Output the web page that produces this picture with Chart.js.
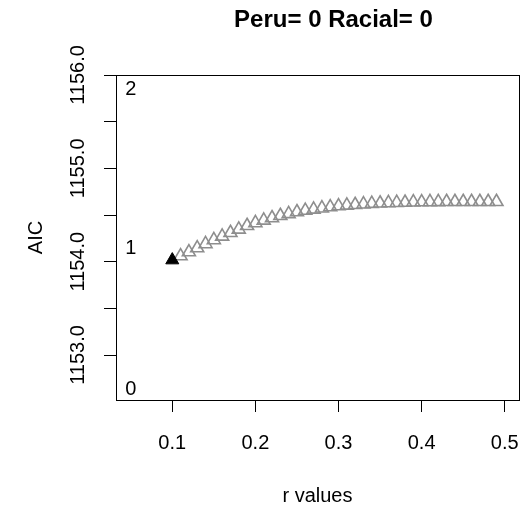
<!DOCTYPE html>
<html>
<head>
<meta charset="utf-8">
<script src="https://cdn.jsdelivr.net/npm/chart.js@4.4.1/dist/chart.umd.min.js"></script>
<style>
  html, body { margin: 0; padding: 0; background: #fff; }
  #wrap { width: 528px; height: 514px; }
</style>
</head>
<body>
<div id="wrap"><canvas id="chart" width="528" height="514"></canvas></div>
<script>
// r values and AIC
const rValues = [0.11, 0.12, 0.13, 0.14, 0.15, 0.16, 0.17, 0.18, 0.19, 0.20,
                 0.21, 0.22, 0.23, 0.24, 0.25, 0.26, 0.27, 0.28, 0.29, 0.30,
                 0.31, 0.32, 0.33, 0.34, 0.35, 0.36, 0.37, 0.38, 0.39, 0.40,
                 0.41, 0.42, 0.43, 0.44, 0.45, 0.46, 0.47, 0.48, 0.49];
const aicValues = [1154.060, 1154.103, 1154.146, 1154.190, 1154.233, 1154.271, 1154.310, 1154.346, 1154.385, 1154.415,
                   1154.442, 1154.468, 1154.492, 1154.512, 1154.532, 1154.548, 1154.560, 1154.573, 1154.585, 1154.596,
                   1154.603, 1154.610, 1154.616, 1154.622, 1154.626, 1154.629, 1154.632, 1154.634, 1154.637, 1154.639,
                   1154.640, 1154.641, 1154.642, 1154.642, 1154.642, 1154.642, 1154.642, 1154.642, 1154.642];
const bestR = [0.10];
const bestAic = [1154.017];

const xTicks = [0.1, 0.2, 0.3, 0.4, 0.5];
const yTicks = [1153.0, 1153.5, 1154.0, 1154.5, 1155.0, 1155.5, 1156.0];
const yTickLabels = ['1153.0', '1154.0', '1155.0', '1156.0'];

// the little "2", "1", "0" marks at the left of the panel
const noteText = ['2', '1', '0'];
const noteX = [0.05, 0.05, 0.05];
const noteY = [1155.86, 1154.16, 1152.65];

const titleText = 'Peru= 0 Racial= 0';
const xTitle = 'r values';
const yTitle = 'AIC';

const FONT = '"Liberation Sans", Arial, Helvetica, sans-serif';

const toPoints = (xs, ys) => xs.map((x, i) => ({ x: x, y: ys[i] }));

// R-ish frame: box, rotated y labels, titles, notes
const rFrame = {
    id: 'rFrame',
    afterDraw(chart) {
        const ctx = chart.ctx;
        const a = chart.chartArea;
        const xs = chart.scales.x;
        const ys = chart.scales.y;
        ctx.save();
        ctx.strokeStyle = '#000';
        ctx.lineWidth = 1;
        ctx.strokeRect(Math.round(a.left) + 0.5, Math.round(a.top) + 0.5,
                       Math.round(a.right - a.left), Math.round(a.bottom - a.top));

        ctx.fillStyle = '#000';
        ctx.font = '20px ' + FONT;
        ctx.textAlign = 'center';
        ctx.textBaseline = 'alphabetic';
        yTickLabels.forEach(lbl => {
            const py = ys.getPixelForValue(parseFloat(lbl));
            ctx.save();
            ctx.translate(83.5, py);
            ctx.rotate(-Math.PI / 2);
            ctx.fillText(lbl, 0, 0);
            ctx.restore();
        });

        ctx.save();
        ctx.translate(41.5, (a.top + a.bottom) / 2);
        ctx.rotate(-Math.PI / 2);
        ctx.fillText(yTitle, 0, 0);
        ctx.restore();

        ctx.fillText(xTitle, (a.left + a.right) / 2, 502);

        ctx.font = 'bold 24px ' + FONT;
        ctx.fillText(titleText, 333.5, 27);

        ctx.font = '20px ' + FONT;
        noteText.forEach((t, i) => {
            ctx.fillText(t, xs.getPixelForValue(noteX[i]), ys.getPixelForValue(noteY[i]) + 7);
        });
        ctx.restore();
    }
};

new Chart(document.getElementById('chart'), {
    type: 'scatter',
    data: {
        datasets: [
            {
                label: 'best',
                data: toPoints(bestR, bestAic),
                pointStyle: 'triangle',
                pointRadius: 7.5,
                borderColor: '#000',
                backgroundColor: '#000',
                borderWidth: 1
            },
            {
                label: 'AIC',
                data: toPoints(rValues, aicValues),
                pointStyle: 'triangle',
                pointRadius: 7.5,
                borderColor: '#8e8e8e',
                backgroundColor: 'rgba(0,0,0,0)',
                borderWidth: 1.6
            }
        ]
    },
    options: {
        responsive: false,
        animation: false,
        layout: { padding: { left: 0, top: 75, right: 6, bottom: 0 } },
        plugins: {
            legend: { display: false },
            tooltip: { enabled: false },
            title: { display: false }
        },
        scales: {
            x: {
                type: 'linear',
                min: 0.0323,
                max: 0.517,
                afterBuildTicks: s => { s.ticks = xTicks.map(v => ({ value: v })); },
                afterFit: s => { s.height = 114; s.paddingLeft = 0; s.paddingRight = 0; },
                grid: { display: true, drawOnChartArea: false, drawTicks: true, tickLength: 12, color: '#000', lineWidth: 1 },
                border: { display: true, color: '#000', width: 1 },
                ticks: {
                    color: '#000',
                    font: { family: FONT, size: 20 },
                    padding: 19,
                    maxRotation: 0,
                    callback: v => String(v)
                }
            },
            y: {
                type: 'linear',
                min: 1152.518,
                max: 1156.0,
                afterBuildTicks: s => { s.ticks = yTicks.map(v => ({ value: v })); },
                afterFit: s => { s.width = 116; s.paddingTop = 0; s.paddingBottom = 0; },
                grid: { display: true, drawOnChartArea: false, drawTicks: true, tickLength: 12, color: '#000', lineWidth: 1 },
                border: { display: true, color: '#000', width: 1 },
                ticks: { display: true, callback: () => '', font: { size: 1 } }
            }
        }
    },
    plugins: [rFrame]
});
</script>
</body>
</html>
